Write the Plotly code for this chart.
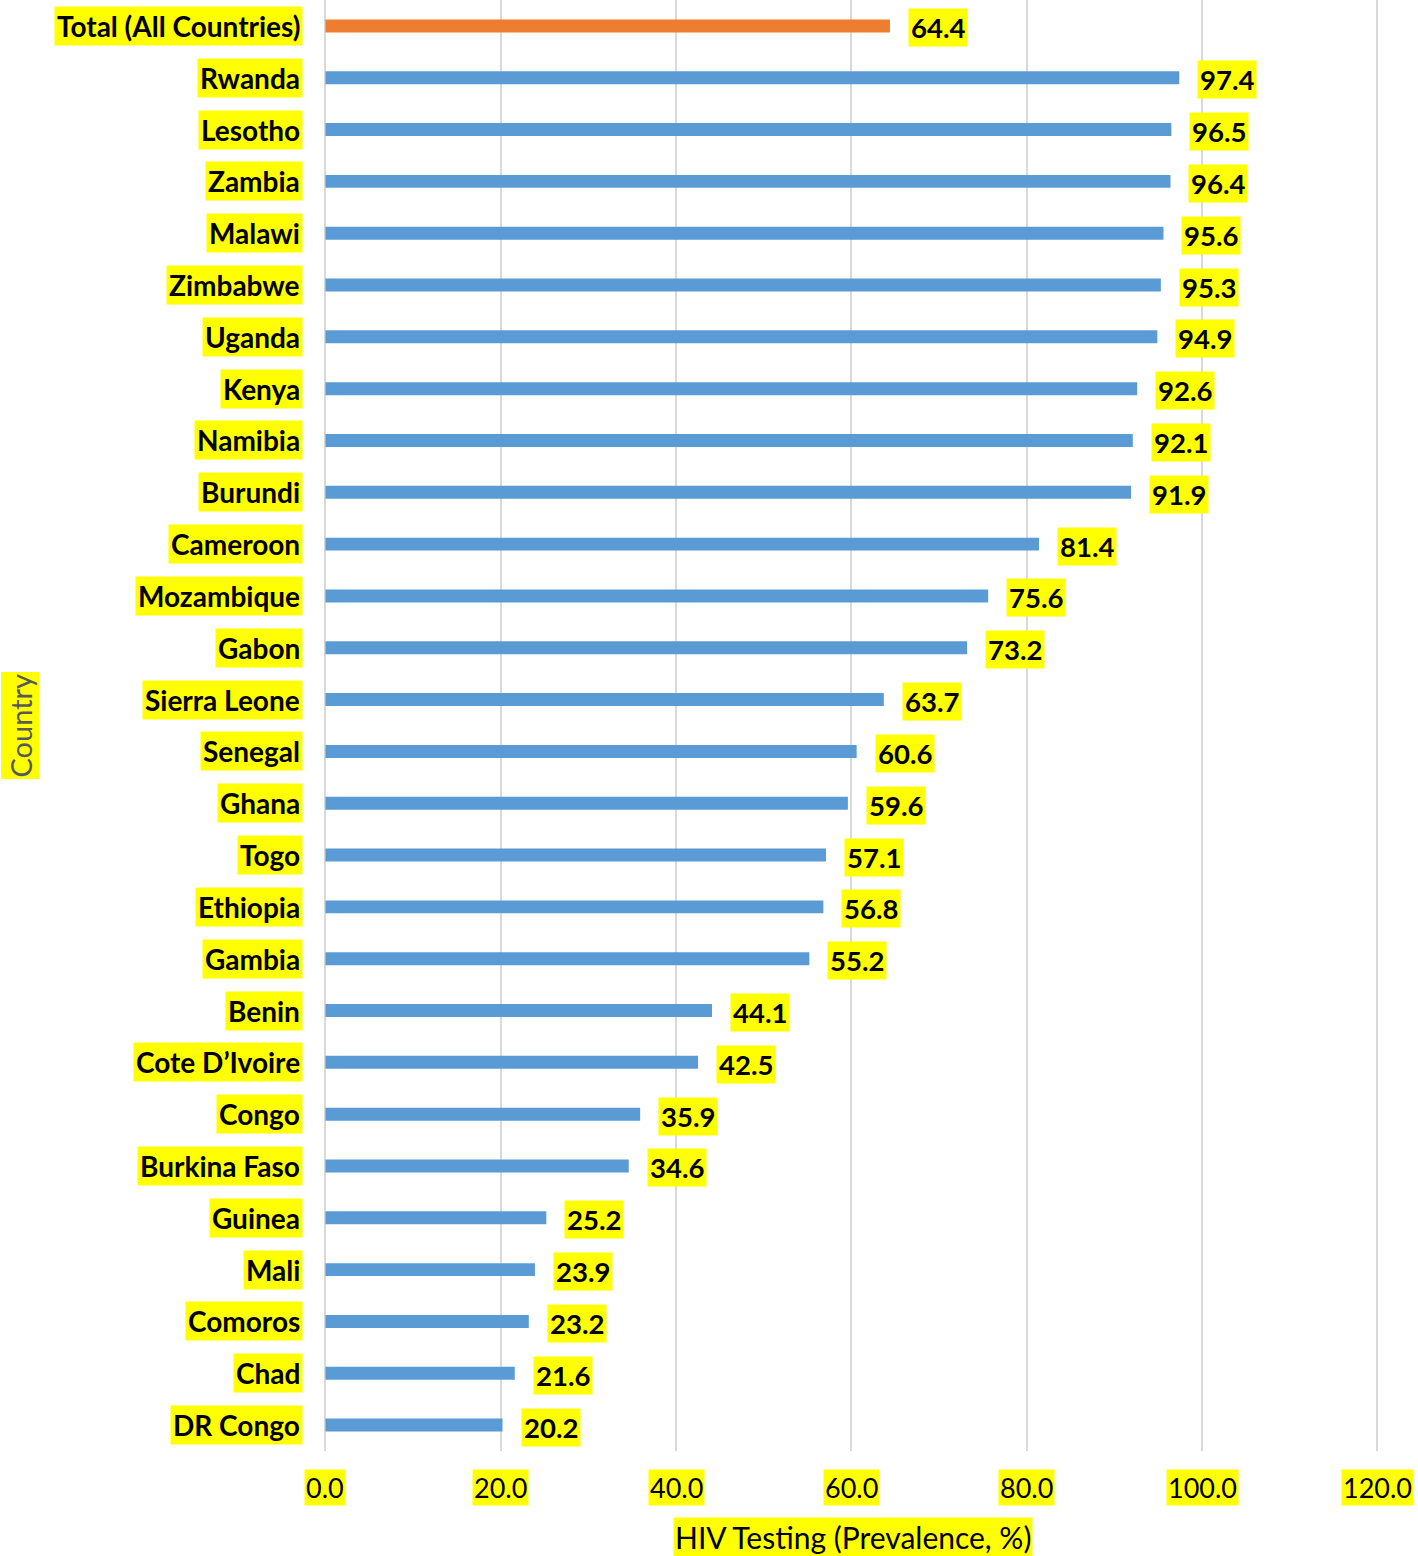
import plotly.graph_objects as go

# Data, top to bottom as shown in the chart
countries = [
    "Total (All Countries)", "Rwanda", "Lesotho", "Zambia", "Malawi", "Zimbabwe",
    "Uganda", "Kenya", "Namibia", "Burundi", "Cameroon", "Mozambique", "Gabon",
    "Sierra Leone", "Senegal", "Ghana", "Togo", "Ethiopia", "Gambia", "Benin",
    "Cote D\u2019Ivoire", "Congo", "Burkina Faso", "Guinea", "Mali", "Comoros",
    "Chad", "DR Congo",
]
values = [
    64.4, 97.4, 96.5, 96.4, 95.6, 95.3, 94.9, 92.6, 92.1, 91.9, 81.4, 75.6, 73.2,
    63.7, 60.6, 59.6, 57.1, 56.8, 55.2, 44.1, 42.5, 35.9, 34.6, 25.2, 23.9, 23.2,
    21.6, 20.2,
]
x_ticks = [0, 20, 40, 60, 80, 100, 120]

BLUE = '#5B9BD5'
ORANGE = '#ED7D31'
YELLOW = '#FFFF00'
GRID = '#D9D9D9'
FONT = 'Lato'

bar_colors = [ORANGE if c.startswith('Total') else BLUE for c in countries]

fig = go.Figure()
fig.add_trace(go.Bar(
    x=values,
    y=countries,
    orientation='h',
    marker=dict(color=bar_colors, line=dict(width=0)),
    width=0.25,
    hoverinfo='x+y',
))

annotations = []

# category labels with yellow highlight
for c in countries:
    annotations.append(dict(
        x=0, xref='paper', y=c, yref='y',
        text='<b>' + c + '</b>', showarrow=False,
        xanchor='right', yanchor='middle', xshift=-22,
        font=dict(family=FONT, size=28, color='black'),
        bgcolor=YELLOW, borderpad=2,
    ))

# value labels
for c, v in zip(countries, values):
    annotations.append(dict(
        x=v, xref='x', y=c, yref='y',
        text='<b>%.1f</b>' % v, showarrow=False,
        xanchor='left', yanchor='middle', xshift=18, yshift=-2,
        font=dict(family=FONT, size=27.5, color='black'),
        bgcolor=YELLOW, borderpad=2,
    ))

# x tick labels
for t in x_ticks:
    annotations.append(dict(
        x=t, xref='x', y=0, yref='paper',
        text='%.1f' % t, showarrow=False,
        xanchor='center', yanchor='top', yshift=-18,
        font=dict(family=FONT, size=27, color='black'),
        bgcolor=YELLOW, borderpad=1,
    ))

# axis titles
annotations.append(dict(
    x=0.5, xref='paper', y=0, yref='paper',
    text='HIV Testing (Prevalence, %)', showarrow=False,
    xanchor='center', yanchor='top', yshift=-66,
    font=dict(family=FONT, size=30, color='black'),
    bgcolor=YELLOW, borderpad=1,
))
annotations.append(dict(
    x=0, xref='paper', y=0.5, yref='paper',
    text='Country', showarrow=False, textangle=-90,
    xanchor='center', yanchor='middle', xshift=-305,
    font=dict(family=FONT, size=29, color='#595959'),
    bgcolor=YELLOW, borderpad=1,
))

fig.update_layout(
    width=1418,
    height=1556,
    margin=dict(l=325, r=38, t=0, b=105),
    plot_bgcolor='white',
    paper_bgcolor='white',
    showlegend=False,
    xaxis=dict(
        # small pad on both ends so the 0 and 120 gridlines get drawn
        range=[-0.05, 120.3],
        tickvals=x_ticks,
        showticklabels=False,
        showgrid=True,
        gridcolor=GRID,
        gridwidth=2,
        zeroline=True,
        zerolinecolor=GRID,
        zerolinewidth=2,
        showline=False,
        fixedrange=True,
    ),
    yaxis=dict(
        categoryorder='array',
        categoryarray=countries[::-1],
        showticklabels=False,
        showgrid=False,
        zeroline=False,
        showline=False,
    ),
    annotations=annotations,
)

# drop the page's default body margin so the figure sits at the top-left corner
fig.write_html("out.html", config={'displayModeBar': False},
               post_script="document.body.style.margin='0px';")
